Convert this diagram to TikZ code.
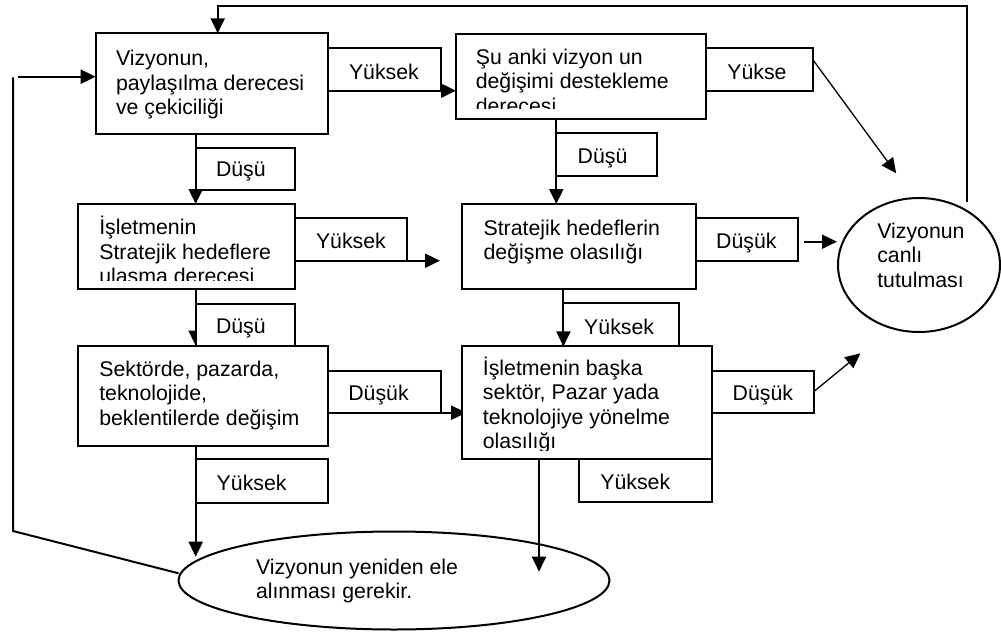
\documentclass[tikz,border=0pt]{standalone}
\usepackage{fontspec}
\setmainfont{Liberation Sans}
\usetikzlibrary{arrows.meta,shapes.geometric,backgrounds}
\tikzset{
  every node/.style={font=\fontsize{21.3}{24.5}\selectfont, inner sep=0pt, outer sep=0pt},
  box/.style={draw, fill=white, line width=2pt, rectangle, anchor=north west},
  lab/.style={draw, fill=white, line width=2pt, rectangle, anchor=north west},
  oval/.style={draw, ellipse, line width=2pt},
  txt/.style={anchor=base west},
  ln/.style={line width=2pt},
  arr/.style={line width=2pt, -{Triangle[length=15pt,width=14pt]}},
  thinarr/.style={line width=1.3pt, -{Triangle[length=15pt,width=14pt]}},
}
\newcommand{\lns}[2]{\parbox[t]{#1}{#2}}
\begin{document}
\begin{tikzpicture}[x=1pt,y=-1pt]
\useasboundingbox (0,0) rectangle (1001,632);

% ---------- main boxes ----------
\node[box, minimum width=232.6pt, minimum height=100.7pt] (b1) at (95.7,33.3) {};
\node[txt] (t1) at (116,65.5) {\lns{210pt}{Vizyonun,\\paylaşılma derecesi\\ve çekiciliği}};

\node[box, minimum width=249.5pt, minimum height=85pt] (b2) at (456,33.8) {};
\begin{scope}
  \clip (456,33.8) rectangle (705.5,108.3);
  \node[txt] (t2) at (475.8,64) {\lns{225pt}{Şu anki vizyon un\\değişimi destekleme\\derecesi}};
\end{scope}

\node[box, minimum width=216.7pt, minimum height=85.3pt] (b3) at (78.3,204) {};
\begin{scope}
  \clip (78.3,204) rectangle (295,280);
  \node[txt] (t3) at (99.3,234.5) {\lns{195pt}{İşletmenin\\Stratejik hedeflere\\ulaşma derecesi}};
\end{scope}

\node[box, minimum width=233.6pt, minimum height=85.3pt] (b4) at (462.2,204) {};
\node[txt] (t4) at (483.6,235) {\lns{210pt}{Stratejik hedeflerin\\değişme olasılığı}};

\node[box, minimum width=250pt, minimum height=100pt] (b5) at (78.3,345.7) {};
\node[txt] (t5) at (99.3,376) {\lns{228pt}{Sektörde, pazarda,\\teknolojide,\\beklentilerde değişim}};

\node[box, minimum width=249.7pt, minimum height=112.9pt] (b6) at (462.2,346.4) {};
\begin{scope}
  \clip (462.2,346.4) rectangle (711.9,450);
  \node[txt] (t6) at (482.9,375) {\lns{228pt}{İşletmenin başka\\sektör, Pazar yada\\teknolojiye yönelme\\olasılığı}};
\end{scope}

% ---------- ovals ----------
\node[oval, minimum width=162pt, minimum height=134pt] (c) at (919,265) {};
\node[txt] (tc) at (877.3,238.3) {\lns{100pt}{Vizyonun\\canlı\\tutulması}};

\node[oval, minimum width=431pt, minimum height=98pt] (e) at (394,580.5) {};
\node[txt] (te) at (256,574) {\lns{240pt}{Vizyonun yeniden ele\\alınması gerekir.}};

% ---------- label boxes ----------
\node[lab, minimum width=112.4pt, minimum height=43pt] (l1) at (328.3,47.7) {};
\node[txt] at (349,79) {Yüksek};
\node[lab, minimum width=107.8pt, minimum height=42.4pt] (l2) at (705.5,48.3) {};
\node[txt] at (727.3,79.3) {Yükse};
\node[lab, minimum width=99.3pt, minimum height=42.3pt] (l3) at (195.7,147.7) {};
\node[txt] at (216,176.7) {Düşü};
\node[lab, minimum width=100.2pt, minimum height=42.4pt] (l4) at (556.3,133.3) {};
\node[txt] at (577.7,163.3) {Düşü};
\node[lab, minimum width=112.3pt, minimum height=42.4pt] (l5) at (295,218.3) {};
\node[txt] at (316,248.3) {Yüksek};
\node[lab, minimum width=102pt, minimum height=42.4pt] (l6) at (695.8,218.3) {};
\node[txt] at (716.2,248.3) {Düşük};
\node[lab, minimum width=99.3pt, minimum height=41.7pt] (l7) at (195.7,304) {};
\node[txt] at (216,333.3) {Düşü};
\node[lab, minimum width=115.6pt, minimum height=43.1pt] (l8) at (563.4,303.3) {};
\node[txt] at (584.2,334) {Yüksek};
\node[lab, minimum width=112.4pt, minimum height=41.7pt] (l9) at (328.3,371) {};
\node[txt] at (348.3,400.7) {Düşük};
\node[lab, minimum width=101.6pt, minimum height=41.7pt] (l10) at (711.9,371) {};
\node[txt] at (732.7,400.7) {Düşük};
\node[lab, minimum width=132.6pt, minimum height=43.4pt] (l11) at (195.7,459.3) {};
\node[txt] at (216.7,490) {Yüksek};
\node[lab, minimum width=133.1pt, minimum height=43pt] (l12) at (578.8,459.3) {};
\node[txt] at (600.3,489.3) {Yüksek};

% ---------- free ends ----------
\coordinate (f1) at (440,260.7);
\coordinate (f2) at (539,571.7);
\coordinate (f3) at (896.2,173.3);
\coordinate (f4) at (860.4,353.3);
\coordinate (f5) at (837,241.7);
\coordinate (f6) at (804.2,241.7);
\coordinate (e1) at (195.7,556.7);
\coordinate (t0) at (966.6,201.7);
\coordinate (t1) at (217.7,6);
\coordinate (e2) at (178.6,573.3);
\coordinate (k1) at (13,531);
\coordinate (k2) at (13,77.3);
\coordinate (k3) at (18.3,76.7);

% ---------- connectors ----------
\begin{pgfonlayer}{background}
  \draw[arr] (b1.east |- l1.south) -- (b2.west |- l1.south);
  \draw[arr] (l3.west |- b1.south) -- (l3.west |- b3.north);
  \draw[arr] (l4.west |- b2.south) -- (l4.west |- b4.north);
  \draw[arr] (b3.east |- l5.south) -- (f1);
  \draw[arr] (l7.west |- b3.south) -- (l7.west |- b5.north);
  \draw[arr] (b5.east |- l9.south) -- ([xshift=4pt]b6.west |- l9.south);
  \draw[arr] (l11.west |- b5.south) -- (e1);
  \draw[arr] (f2 |- b6.south) -- (f2);
  \draw[thinarr] ([yshift=-12pt]l2.north east) -- (f3);
  \draw[thinarr] (l10.east) -- (f4);
  \draw[arr] (f6) -- (f5);
  \draw[arr] (t0) |- (t1) -- (t1 |- b1.north);
  \draw[ln] (e2) -- (k1) -- (k2);
  \draw[arr] (k3) -- (b1.west |- k3);
\end{pgfonlayer}
\draw[arr] (l8.west |- b4.south) -- (l8.west |- b6.north);
\end{tikzpicture}
\end{document}
